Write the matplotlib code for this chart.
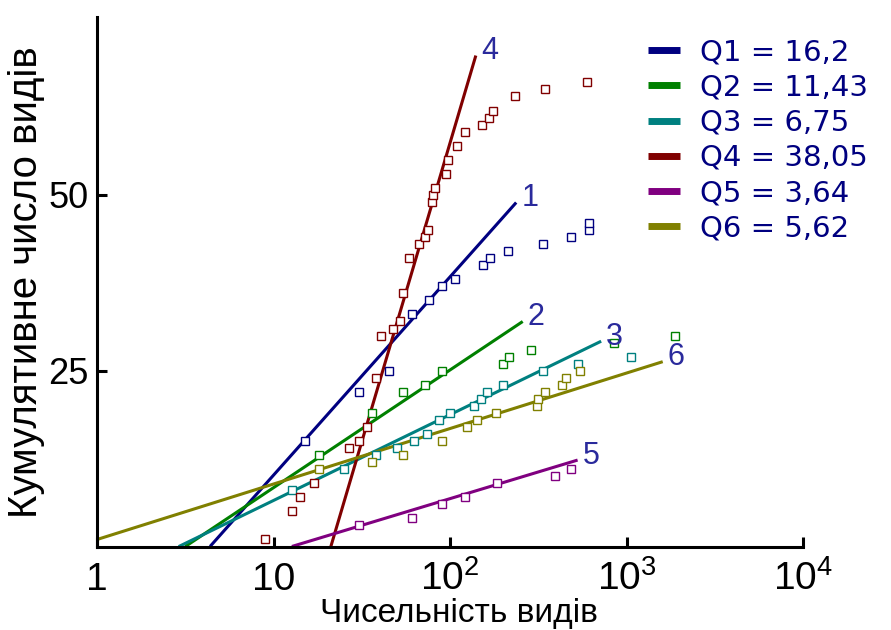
import matplotlib
matplotlib.use("Agg")
import matplotlib.pyplot as plt
from matplotlib import font_manager as fm
import numpy as np

# cumulative species curves: abundance (x) and cumulative number of species (y)
x1 = [15.1, 30.6, 45.3, 60.9, 76.3, 90.4, 107, 153, 169, 212, 335, 485, 611, 611]
s1 = [15, 22, 25, 33, 35, 37, 38, 40, 41, 42, 43, 44, 45, 46]
x2 = [18.1, 36, 54.4, 72.2, 90.4, 199, 217, 287, 849, 1884]
s2 = [13, 19, 22, 23, 25, 26, 27, 28, 29, 30]
x3 = [12.8, 25.1, 38.1, 49.9, 62.8, 74.3, 86.7, 100, 137, 149, 161, 199, 335, 533, 1057]
s3 = [8, 11, 13, 14, 15, 16, 18, 19, 20, 21, 22, 23, 25, 26, 27]
x4 = [9, 12.8, 14.1, 17, 26.7, 30.5, 33.7, 37.9, 40.5, 47.3, 52, 54.4, 58.3, 67, 72, 75,
      79, 80.5, 82.6, 94.6, 97, 109, 122, 151, 166, 176, 233, 345, 595]
s4 = [1, 5, 7, 9, 14, 15, 17, 24, 30, 31, 32, 36, 41, 43, 44, 45,
      49, 50, 51, 53, 55, 57, 59, 60, 61, 62, 64, 65, 66]
x5 = [30.6, 60.7, 90.4, 122, 185, 393, 485]
s5 = [3, 4, 6, 7, 9, 10, 11]
x6 = [18.1, 36.1, 54.4, 90.4, 124, 143, 182, 310, 317, 347, 433, 454, 545]
s6 = [11, 12, 13, 15, 17, 18, 19, 20, 21, 22, 23, 24, 25]

# fitted lines  y = slope * log10(x) + intercept, drawn over [x_from, x_to]
slopes = [28.2, 16.74, 12.20, 85.0, 7.59, 7.89]
intercepts = [-18.05, -8.37, -5.65, -112.6, -8.37, 1.0]
x_from = [4.37, 3.16, 2.90, 21.1, 12.7, 1.0]
x_to = [237, 258, 718, 140, 528, 1603]

q_labels = ["Q1 = 16,2", "Q2 = 11,43", "Q3 = 6,75", "Q4 = 38,05", "Q5 = 3,64", "Q6 = 5,62"]
curve_ids = ["1", "2", "3", "4", "5", "6"]
colors = ["#000080", "#008000", "#008080", "#800000", "#800080", "#808000"]

xticks = [1, 10, 100, 1000, 10000]
xtick_labels = ["1", "10", r"$10^{2}$", r"$10^{3}$", r"$10^{4}$"]
yticks = [25, 50]

names = {f.name for f in fm.fontManager.ttflist}
narrow = "Liberation Sans Narrow" if "Liberation Sans Narrow" in names else "Liberation Sans"
plt.rcParams["font.family"] = ["Liberation Sans", "DejaVu Sans"]
plt.rcParams["mathtext.fontset"] = "custom"
plt.rcParams["mathtext.rm"] = narrow
plt.rcParams["mathtext.it"] = narrow
plt.rcParams["mathtext.bf"] = narrow

fig = plt.figure(figsize=(8.91, 6.30), dpi=100)
ax = fig.add_axes([0.1089, 0.1325, 0.7924, 0.8405])

xs = [x1, x2, x3, x4, x5, x6]
ss = [s1, s2, s3, s4, s5, s6]
for i in range(6):
    lx = np.logspace(np.log10(x_from[i]), np.log10(x_to[i]), 50)
    ly = slopes[i] * np.log10(lx) + intercepts[i]
    ax.plot(lx, ly, color=colors[i], lw=2.2, zorder=2, solid_capstyle="butt")
    ax.plot(xs[i], ss[i], "s", ms=5.5, mfc="white", mec=colors[i], mew=1.0,
            zorder=3, clip_on=False)
    yend = slopes[i] * np.log10(x_to[i]) + intercepts[i]
    ax.text(x_to[i] * 1.07, yend + 0.6, curve_ids[i], color="#2a2a9c",
            fontsize=22, ha="left", va="center")

ax.set_xscale("log")
ax.set_xlim(1, 10000)
ax.set_ylim(0, 75.3)
ax.minorticks_off()
ax.set_xticks(xticks, xtick_labels, va="baseline", fontsize=28, family=narrow)
ax.set_yticks(yticks, [str(v) for v in yticks], fontsize=26)
ax.tick_params(axis="x", direction="in", length=7, width=2.2, pad=31.3)
ax.tick_params(axis="y", direction="in", length=7, width=2.2, pad=6)

for side in ("top", "right"):
    ax.spines[side].set_visible(False)
for side in ("left", "bottom"):
    ax.spines[side].set_linewidth(2.2)

ax.set_xlabel("Чисельність видів", fontsize=24, family=narrow)
ax.xaxis.set_label_coords(0.512, -0.0975)
ax.set_ylabel("Кумулятивне число видів", fontsize=29)
ax.yaxis.set_label_coords(-0.073, 0.5)

handles = [plt.Line2D([], [], color=c, lw=5, solid_capstyle="butt") for c in colors]
leg = fig.legend(handles, q_labels, loc="upper left", bbox_to_anchor=(0.727, 0.939),
                 frameon=False, handlelength=1.1, handletextpad=0.7,
                 labelspacing=0.245, borderpad=0, borderaxespad=0,
                 prop={"family": "DejaVu Sans", "size": 21})
for t in leg.get_texts():
    t.set_color("#000080")

fig.savefig("out.png", dpi=100)
